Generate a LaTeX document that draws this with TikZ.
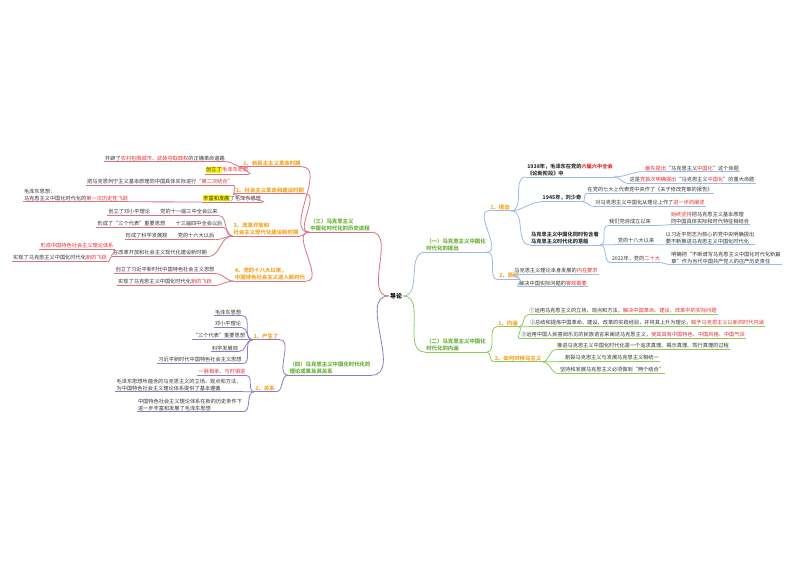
\documentclass[tikz,border=0pt]{standalone}
\usepackage{fontspec}
\setmainfont{Noto Sans CJK SC}
\definecolor{cr}{HTML}{D9737F}
\definecolor{cb}{HTML}{9DB9E6}
\definecolor{cg}{HTML}{8CCB5A}
\definecolor{cp}{HTML}{8E7CC3}
\definecolor{co}{HTML}{F5A623}
\definecolor{tg}{HTML}{6BB33A}
\definecolor{rd}{HTML}{E03030}
\definecolor{tx}{HTML}{333333}
\newcommand\hl[1]{{\setlength{\fboxsep}{0.3pt}\colorbox{yellow}{#1}}}
\newcommand\rt[1]{\textcolor{rd}{#1}}
% right child: name, pos, text, parent, color
\newcommand\RC[5]{\node[t,lc=#5] (#1) at (#2) {#3};\draw[#5,thick] (#4.south east) to[out=0,in=180] (#1.south west);}
\newcommand\LC[5]{\node[t,lc=#5] (#1) at (#2) {#3};\draw[#5,thick] (#4.south west) to[out=180,in=0] (#1.south east);}
\begin{document}
\begin{tikzpicture}[x=1pt,y=-1pt,
 lc/.style={append after command={(\tikzlastnode.south west) edge[draw=#1,thick] (\tikzlastnode.south east)}},
 t/.style={font=\fontsize{5.2}{6.4}\selectfont,text=tx,inner sep=1pt,align=left},
 br/.style={font=\fontsize{5.4}{6.6}\selectfont\bfseries,text=tg,inner sep=1pt,align=left},
 sub/.style={font=\fontsize{5.4}{6.6}\selectfont\bfseries,text=co,inner sep=1pt,align=left}]
\useasboundingbox (0,0) rectangle (800,566);
\fill[white] (0,0) rectangle (800,566);
\node[font=\fontsize{6}{7}\selectfont\bfseries,inner sep=1pt] (root) at (396,296) {导论};
% main branches
\node[br,lc=cr] (b3) at (340,225) {（三）马克思主义\\中国化时代化的历史进程};
\draw[cr,thick] (root.west) to[out=180,in=0] (b3.south east);
\node[br,lc=cb] (b1) at (456,245) {（一）马克思主义中国化\\时代化的提出};
\draw[cb,thick] (root.east) to[out=0,in=180] (b1.south west);
\node[br,lc=cg] (b2) at (456,345) {（二）马克思主义中国化\\时代化的内涵};
\draw[cg,thick] (root.east) to[out=0,in=180] (b2.south west);
\node[br,lc=cp] (b4) at (330,368) {（四）马克思主义中国化时代化的\\理论成果及其关系};
\draw[cp,thick] (root.west) to[out=180,in=0] (b4.south east);
% ---- (三)
\node[sub,lc=cr] (s31) at (272,163) {1、新民主主义革命时期};
\draw[cr,thick] (b3.south west) to[out=180,in=0] (s31.south east);
\node[sub,lc=cr] (s32) at (270,190) {2、社会主义革命和建设时期};
\draw[cr,thick] (b3.south west) to[out=180,in=0] (s32.south east);
\node[sub,lc=cr] (s33) at (266,229) {3、改革开放和\\社会主义现代化建设新时期};
\draw[cr,thick] (b3.south west) to[out=180,in=0] (s33.south east);
\node[sub,lc=cr] (s34) at (270,274) {4、党的十八大以来，\\中国特色社会主义进入新时代};
\draw[cr,thick] (b3.south west) to[out=180,in=0] (s34.south east);
\LC{a1}{165,158}{开辟了\rt{农村包围城市、武装夺取政权}的正确革命道路}{s31}{cr}
\LC{a2}{227,170}{\hl{创立了}\rt{毛泽东思想}}{s31}{cr}
\LC{a3}{160,182}{把马克思列宁主义基本原理同中国具体实际进行\rt{“第二次结合”}}{s32}{cr}
\LC{a4}{232,198}{\hl{丰富和发展}了毛泽东思想}{s32}{cr}
\LC{a5}{76,195}{毛泽东思想：\\马克思主义中国化时代化的\rt{第一次历史性飞跃}}{a4}{cr}
\LC{a6}{163,212}{创立了邓小平理论\quad\quad 党的十一届三中全会以来}{s33}{cr}
\LC{a7}{160,224}{形成了“三个代表”重要思想\quad\quad 十三届四中全会以后}{s33}{cr}
\LC{a8}{170,236}{形成了科学发展观\quad\quad 党的十六大以后}{s33}{cr}
\LC{a9}{160,253}{在改革开放和社会主义现代化建设新时期}{s33}{cr}
\LC{a10}{77,246}{\rt{形成中国特色社会主义理论体系}}{a9}{cr}
\LC{a11}{60,258}{实现了马克思主义中国化时代化\rt{新的飞跃}}{a9}{cr}
\LC{a12}{165,270}{创立了习近平新时代中国特色社会主义思想}{s34}{cr}
\LC{a13}{165,282}{实现了马克思主义中国化时代化\rt{新的飞跃}}{s34}{cr}
% ---- (一)
\node[sub,lc=cb] (s11) at (500,207) {1、提出};
\draw[cb,thick] (b1.south east) to[out=0,in=180] (s11.south west);
\node[sub,lc=cb] (s12) at (509,276) {2、原因};
\draw[cb,thick] (b1.south east) to[out=0,in=180] (s12.south west);
\RC{c1}{570,170}{\textbf{1938年，毛泽东在党的\rt{六届六中全会}}\\\textbf{《论新阶段》中}}{s11}{cb}
\RC{c2}{562,198}{\textbf{1945年，刘少奇}}{s11}{cb}
\RC{c3}{565,238}{\textbf{马克思主义中国化同时包含着}\\\textbf{马克思主义时代化的意蕴}}{s11}{cb}
\RC{d1}{692,168}{\rt{最先提出}“马克思主义\rt{中国化}”这个命题}{c1}{cb}
\RC{d2}{692,180}{这是\rt{党首次明确提出}“马克思主义\rt{中国化}”的重大命题}{c1}{cb}
\RC{d3}{650,190}{在党的七大上代表党中央作了《关于修改党章的报告》}{c2}{cb}
\RC{d4}{650,203}{对马克思主义中国化从理论上作了\rt{进一步的阐述}}{c2}{cb}
\RC{d5}{630,222}{我们党自成立以来}{c3}{cb}
\RC{d6}{636,241}{党的十八大以来}{c3}{cb}
\RC{d7}{636,259}{2022年，党的\rt{二十大}}{c3}{cb}
\RC{e1}{710,218}{\rt{始终坚持}把马克思主义基本原理\\同中国具体实际和时代特征相结合}{d5}{cb}
\RC{e2}{710,238}{以习近平同志为核心的党中央明确提出\\要不断推进马克思主义中国化时代化}{d6}{cb}
\RC{e3}{726,258}{明确把“不断谱写马克思主义中国化时代化新篇\\章”作为当代中国共产党人的庄严历史责任}{d7}{cb}
\RC{d8}{556,271}{马克思主义理论本身发展的\rt{内在要求}}{s12}{cb}
\RC{d9}{553,283}{解决中国实际问题的\rt{客观需要}}{s12}{cb}
% ---- (二)
\node[sub,lc=cg] (s21) at (508,323) {1、内涵};
\draw[cg,thick] (b2.south east) to[out=0,in=180] (s21.south west);
\node[sub,lc=cg] (s22) at (518,358) {2、如何对待马主义};
\draw[cg,thick] (b2.south east) to[out=0,in=180] (s22.south west);
\RC{f1}{623,311}{①运用马克思主义的立场、观点和方法，\rt{解决中国革命、建设、改革中的实际问题}}{s21}{cg}
\RC{f2}{647,323}{②总结和提炼中国革命、建设、改革的实践经验，并将其上升为理论，\rt{赋予马克思主义以新的时代内涵}}{s21}{cg}
\RC{f3}{633,335}{③运用中国人民喜闻乐见的民族语言来阐述马克思主义，\rt{使其具有中国特色、中国风格、中国气派}}{s21}{cg}
\RC{f4}{643,346}{推进马克思主义中国化时代化是一个追求真理、揭示真理、笃行真理的过程}{s22}{cg}
\RC{f5}{612,358}{割裂马克思主义与发展马克思主义相统一}{s22}{cg}
\RC{f6}{612,370}{坚持和发展马克思主义必须做到“两个结合”}{s22}{cg}
% ---- (四)
\node[sub,lc=cp] (s41) at (266,336) {1、产生了};
\draw[cp,thick] (b4.south west) to[out=180,in=0] (s41.south east);
\node[sub,lc=cp] (s42) at (265,388) {2、关系};
\draw[cp,thick] (b4.south west) to[out=180,in=0] (s42.south east);
\LC{g1}{228,312}{毛泽东思想}{s41}{cp}
\LC{g2}{228,324}{邓小平理论}{s41}{cp}
\LC{g3}{219,336}{“三个代表”重要思想}{s41}{cp}
\LC{g4}{225,348}{科学发展观}{s41}{cp}
\LC{g5}{200,360}{习近平新时代中国特色社会主义思想}{s41}{cp}
\LC{g6}{222,372}{\rt{一脉相承、与时俱进}}{s42}{cp}
\LC{g7}{179,385}{毛泽东思想所蕴含的马克思主义的立场、观点和方法，\\为中国特色社会主义理论体系提供了基本遵循}{s42}{cp}
\LC{g8}{190,405}{中国特色社会主义理论体系在新的历史条件下\\进一步丰富和发展了毛泽东思想}{s42}{cp}
\end{tikzpicture}
\end{document}
